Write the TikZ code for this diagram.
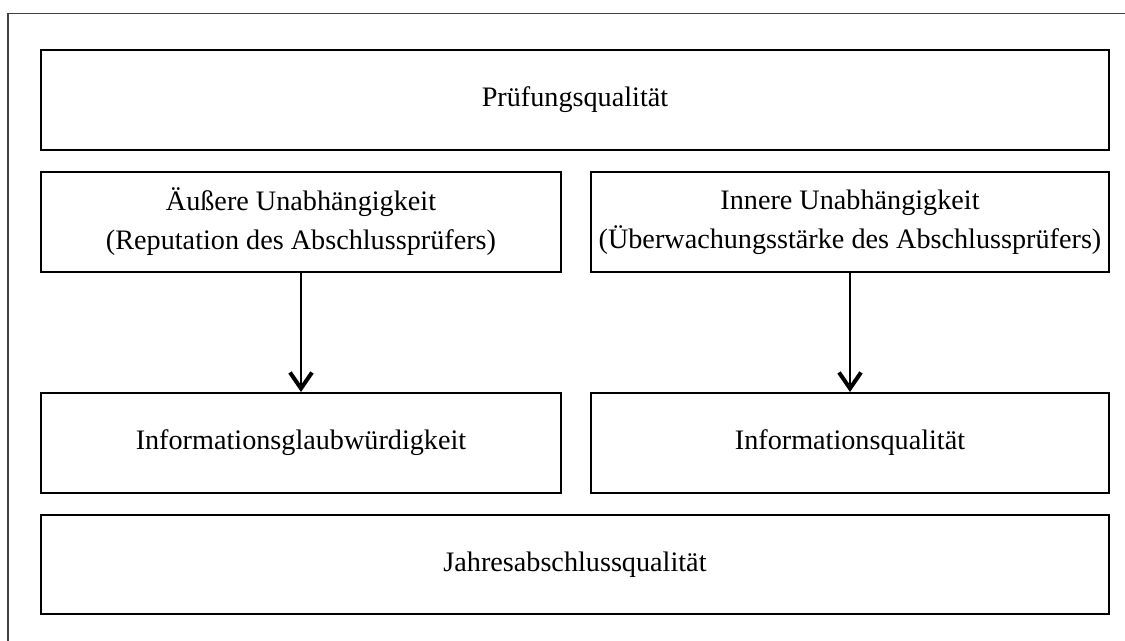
\documentclass[tikz,border=0pt]{standalone}
\usepackage{fontspec}
\setmainfont{Liberation Serif}
\usetikzlibrary{arrows.meta}
\begin{document}
\begin{tikzpicture}[x=0.5pt,y=-0.5pt,
  box/.style={draw=black,line width=1pt,inner sep=0pt,align=center,
    font=\fontsize{14.1}{19.5}\selectfont},
  arr/.style={line width=0.9pt,-{Straight Barb[length=8pt,width=11pt,line width=2pt]}}]
\useasboundingbox (0,0) rectangle (1125,641);
\draw[line width=0.7pt,draw=black!75] (8,660) -- (8,13.5) -- (1140,13.5);
\node[box,minimum width=534pt,minimum height=50pt] (pq) at (575,100) {Prüfungsqualität};
\node[box,minimum width=260pt,minimum height=50pt] (au) at (301,222) {Äußere Unabhängigkeit\\(Reputation des Abschlussprüfers)};
\node[box,minimum width=259pt,minimum height=50pt] (iu) at (850,222) {Innere Unabhängigkeit\\(Überwachungsstärke des Abschlussprüfers)};
\node[box,minimum width=260pt,minimum height=50pt] (ig) at (301,443) {Informationsglaubwürdigkeit};
\node[box,minimum width=259pt,minimum height=50pt] (iq) at (850,443) {Informationsqualität};
\node[box,minimum width=534pt,minimum height=49.5pt] (jq) at (575,564.5) {Jahresabschlussqualität};
\draw[arr] (au.south) -- (ig.north);
\draw[arr] (iu.south) -- (iq.north);
\end{tikzpicture}
\end{document}
